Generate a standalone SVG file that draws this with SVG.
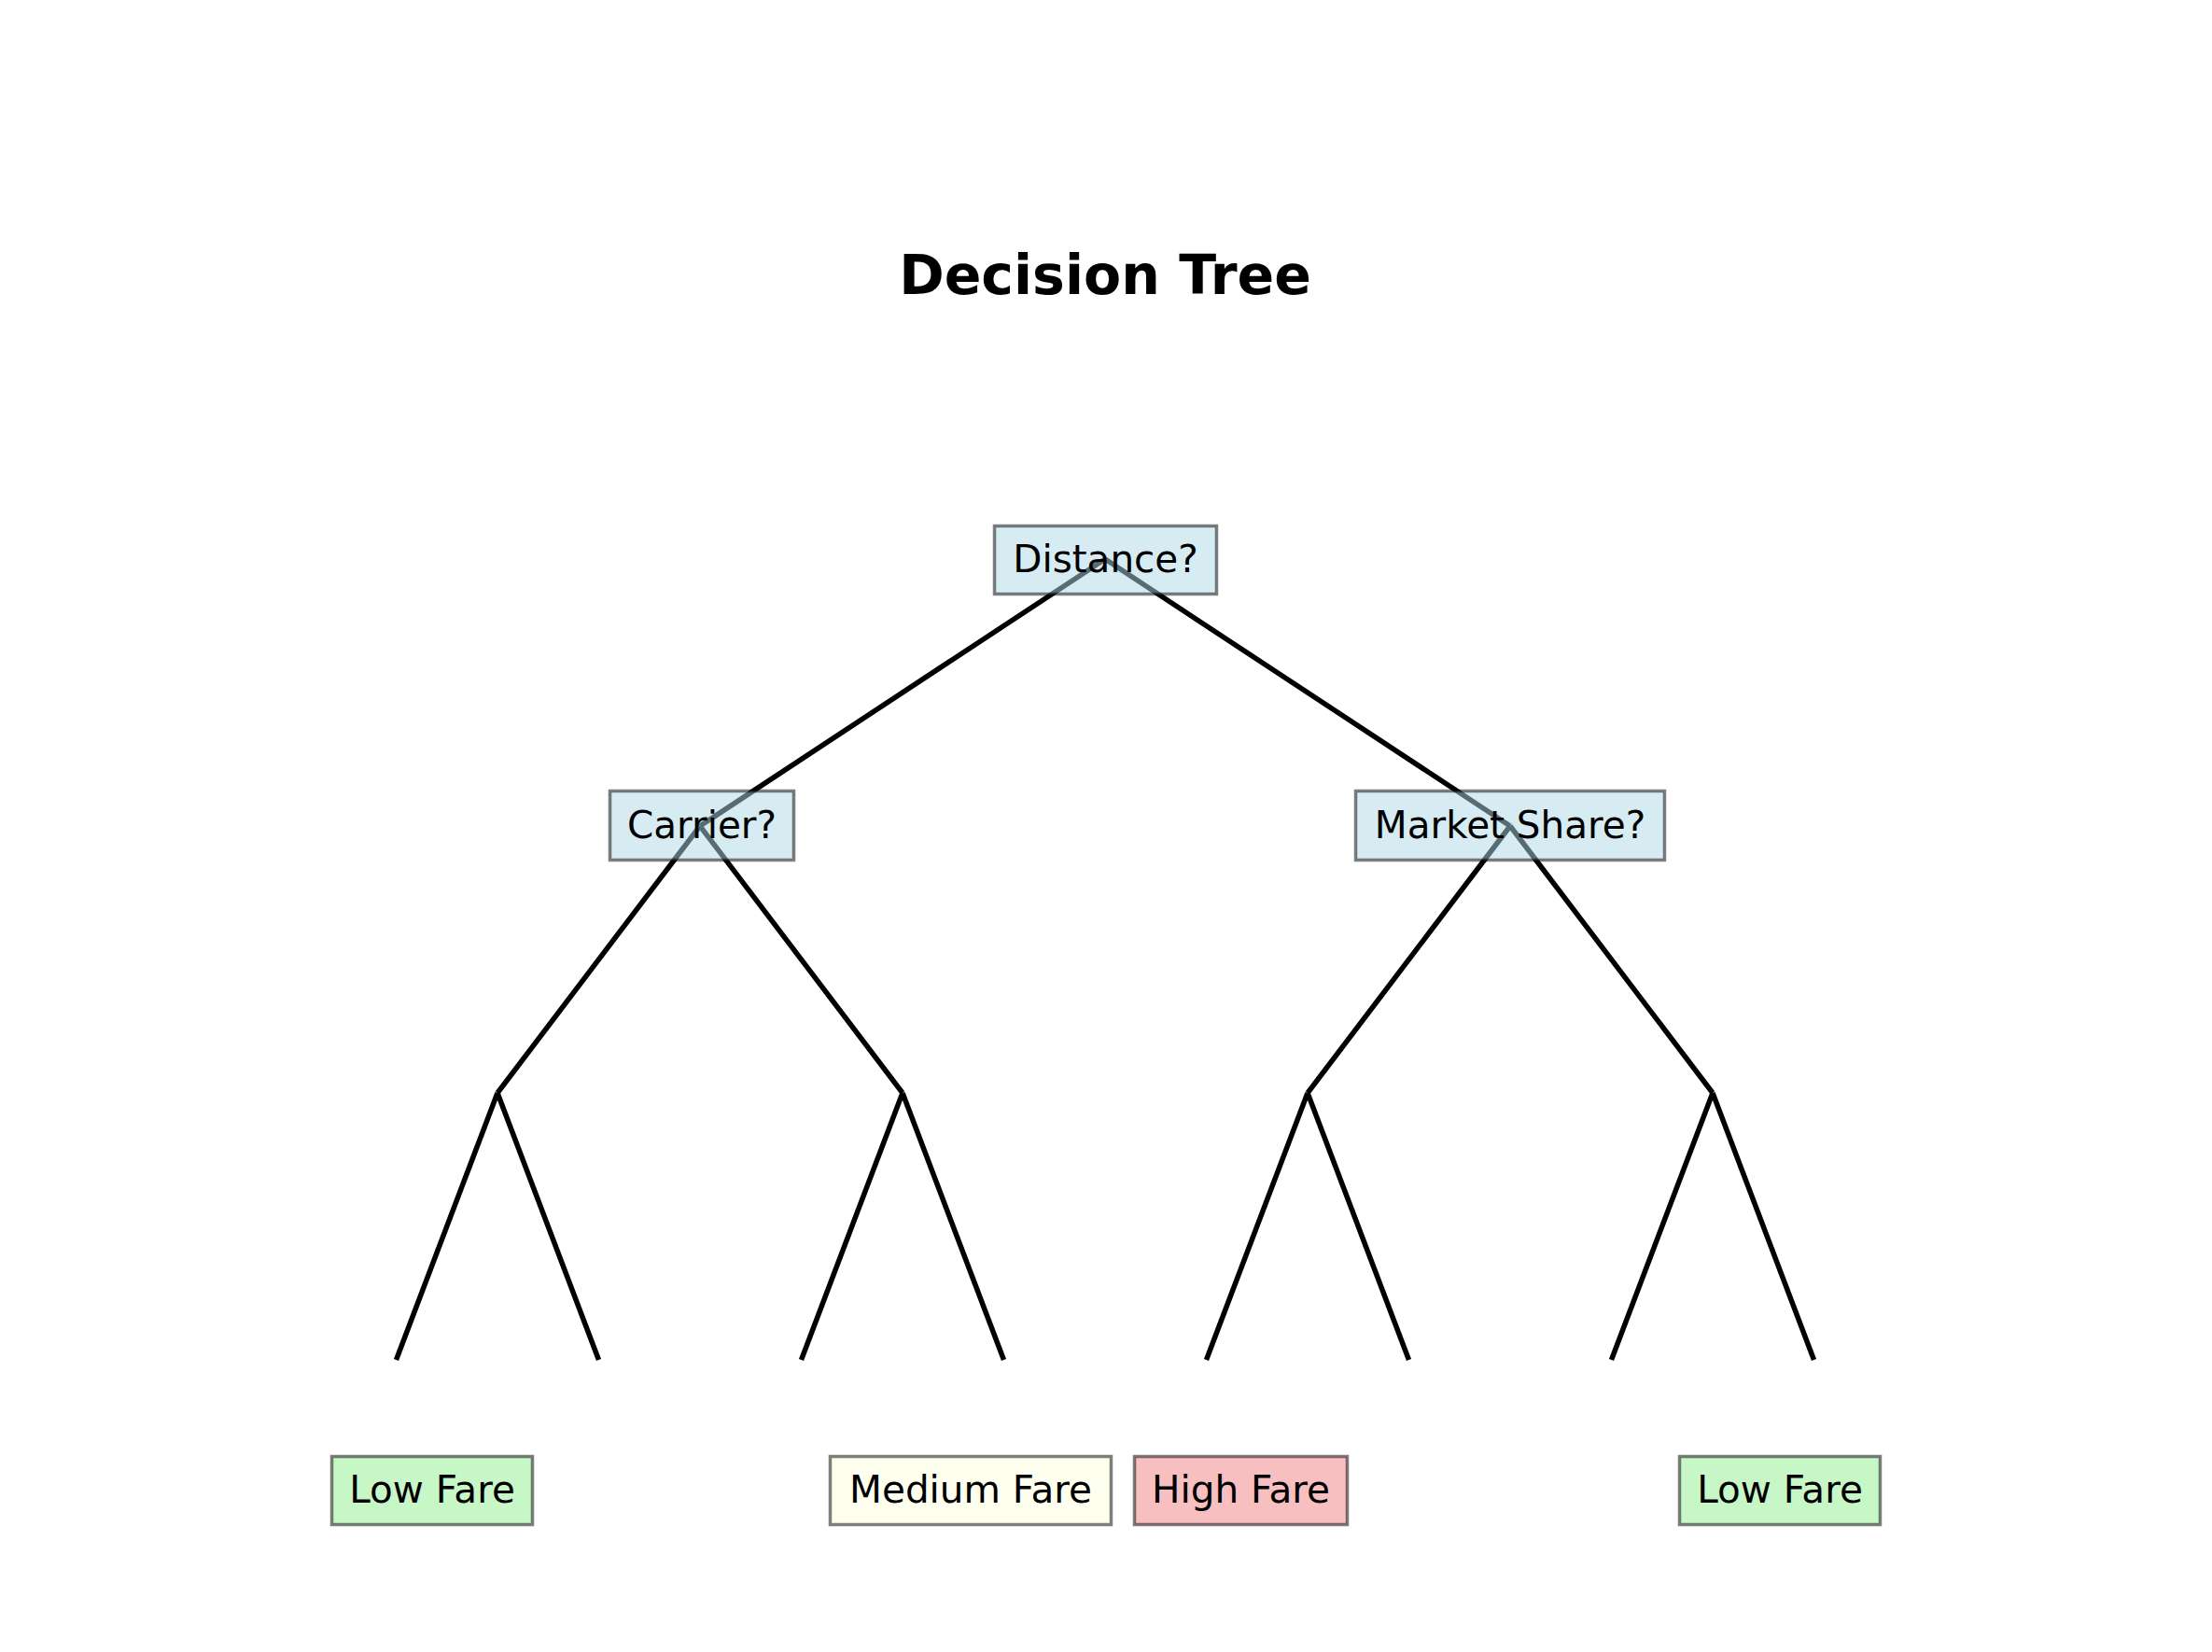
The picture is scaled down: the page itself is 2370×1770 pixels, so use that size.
<svg xmlns="http://www.w3.org/2000/svg" width="2370" height="1770" viewBox="0 0 2370 1770">
<style>
.edge{stroke:#000;stroke-width:5.5;fill:none;stroke-linecap:butt}
.box{stroke:#000;stroke-opacity:0.5;stroke-width:3.5;fill-opacity:0.5}
.dec{fill:#ADD8E6}
.low{fill:#90EE90}
.med{fill:#FFFFE0}
.high{fill:#F08080}
.lbl{font-family:"DejaVu Sans",sans-serif;font-size:40.5px;fill:#000;text-anchor:middle}
.title{font-family:"DejaVu Sans",sans-serif;font-size:58.5px;font-weight:bold;fill:#000;text-anchor:middle}
</style>
<rect width="2370" height="1770" fill="#fff"/>
<text class="title" x="1184" y="315">Decision Tree</text>
<g id="connectors">
<path class="edge" d="M1184,599 L750,885 M1184,599 L1618,885"/>
<path class="edge" d="M750,885 L533,1171 M750,885 L967,1171 M1618,885 L1401,1171 M1618,885 L1835,1171"/>
<path class="edge" d="M533,1171 L424.5,1457 M533,1171 L641.5,1457 M967,1171 L858.5,1457 M967,1171 L1075.5,1457 M1401,1171 L1292.5,1457 M1401,1171 L1509.5,1457 M1835,1171 L1726.5,1457 M1835,1171 L1943.5,1457"/>
</g>
<g id="node-distance">
<rect class="box dec" x="1065.5" y="563.5" width="238" height="73"/>
<text class="lbl" x="1184.5" y="613">Distance?</text>
</g>
<g id="node-carrier">
<rect class="box dec" x="653.5" y="847.5" width="197" height="74"/>
<text class="lbl" x="752" y="897.5">Carrier?</text>
</g>
<g id="node-market-share">
<rect class="box dec" x="1452.5" y="847.5" width="331" height="74"/>
<text class="lbl" x="1618" y="897.5">Market Share?</text>
</g>
<g id="leaf-low-fare-1">
<rect class="box low" x="355.5" y="1560.5" width="215" height="73"/>
<text class="lbl" x="463" y="1610">Low Fare</text>
</g>
<g id="leaf-medium-fare">
<rect class="box med" x="889.5" y="1560.5" width="301" height="73"/>
<text class="lbl" x="1040" y="1610">Medium Fare</text>
</g>
<g id="leaf-high-fare">
<rect class="box high" x="1215.5" y="1560.5" width="228" height="73"/>
<text class="lbl" x="1329.5" y="1610">High Fare</text>
</g>
<g id="leaf-low-fare-2">
<rect class="box low" x="1799.5" y="1560.5" width="215" height="73"/>
<text class="lbl" x="1907" y="1610">Low Fare</text>
</g>
</svg>
